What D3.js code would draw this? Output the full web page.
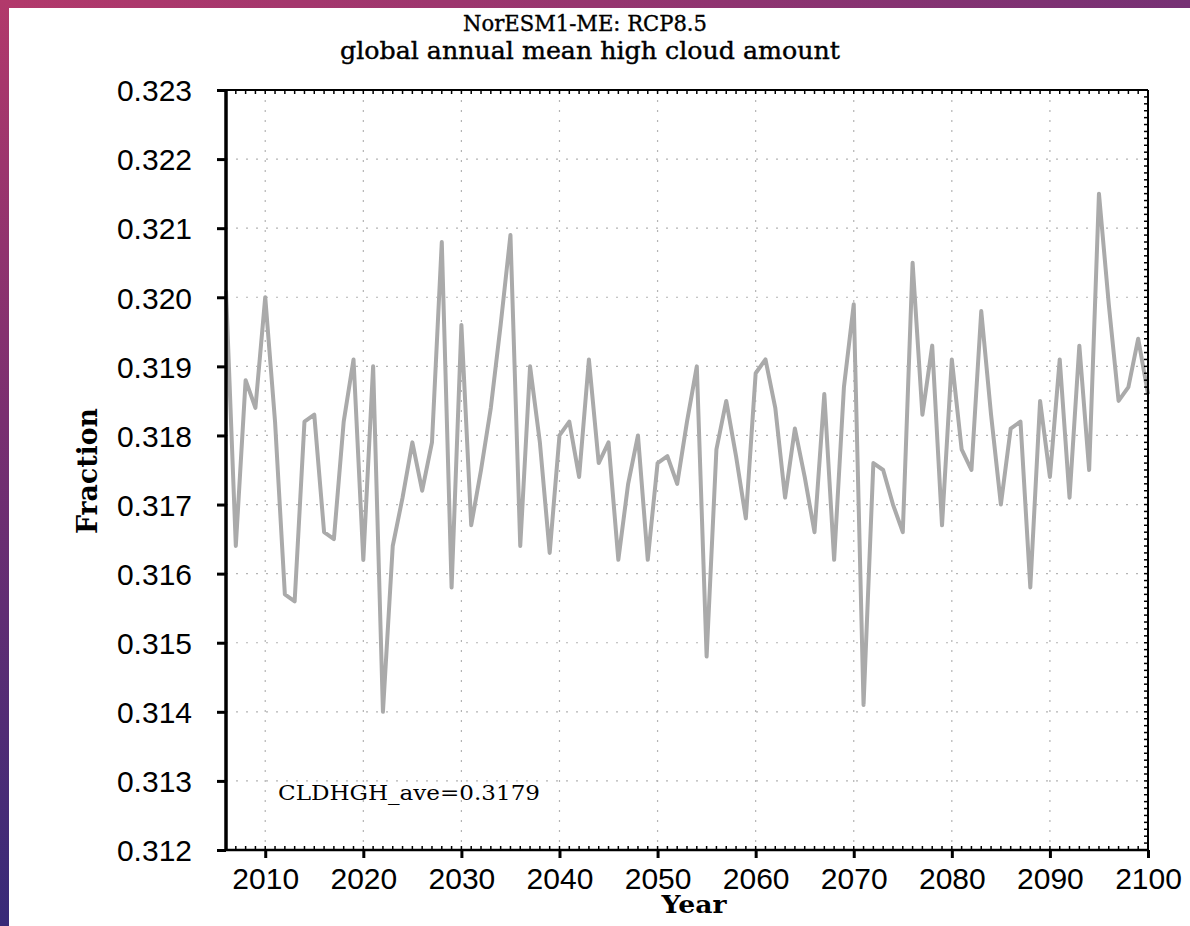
<!DOCTYPE html>
<html>
<head>
<meta charset="utf-8">
<script src="https://cdn.jsdelivr.net/npm/d3@7"></script>
<style>
  html, body { margin: 0; padding: 0; background: #fff; }
  svg { display: block; }
</style>
</head>
<body>
<svg id="chart" width="1190" height="926"></svg>
<script>
// NorESM1-ME RCP8.5: global annual mean high cloud amount (CLDHGH), 2006-2100
const years = d3.range(2006, 2101);
const cldhgh = [
  0.3201, 0.3164, 0.3188, 0.3184, 0.3200, 0.3182, 0.3157, 0.3156, 0.3182, 0.3183,
  0.3166, 0.3165, 0.3182, 0.3191, 0.3162, 0.3190, 0.3140, 0.3164, 0.3171, 0.3179,
  0.3172, 0.3179, 0.3208, 0.3158, 0.3196, 0.3167, 0.3175, 0.3184, 0.3196, 0.3209,
  0.3164, 0.3190, 0.3179, 0.3163, 0.3180, 0.3182, 0.3174, 0.3191, 0.3176, 0.3179,
  0.3162, 0.3173, 0.3180, 0.3162, 0.3176, 0.3177, 0.3173, 0.3182, 0.3190, 0.3148,
  0.3178, 0.3185, 0.3177, 0.3168, 0.3189, 0.3191, 0.3184, 0.3171, 0.3181, 0.3174,
  0.3166, 0.3186, 0.3162, 0.3187, 0.3199, 0.3141, 0.3176, 0.3175, 0.3170, 0.3166,
  0.3205, 0.3183, 0.3193, 0.3167, 0.3191, 0.3178, 0.3175, 0.3198, 0.3183, 0.3170,
  0.3181, 0.3182, 0.3158, 0.3185, 0.3174, 0.3191, 0.3171, 0.3193, 0.3175, 0.3215,
  0.3199, 0.3185, 0.3187, 0.3194, 0.3186
];
const xTicks = [2010, 2020, 2030, 2040, 2050, 2060, 2070, 2080, 2090, 2100];
const yTicks = [0.312, 0.313, 0.314, 0.315, 0.316, 0.317, 0.318, 0.319, 0.320, 0.321, 0.322, 0.323];
const titleLines = ["NorESM1-ME: RCP8.5", "global annual mean high cloud amount"];

const svg = d3.select("#chart");
const W = 1190, H = 926;
const plot = { left: 226, right: 1148, top: 90, bottom: 850 };

// decorative frame strips
const defs = svg.append("defs");
const gTop = defs.append("linearGradient").attr("id", "frameTop").attr("x1", 0).attr("x2", 1).attr("y1", 0).attr("y2", 0);
gTop.append("stop").attr("offset", 0).attr("stop-color", "#b2396b");
gTop.append("stop").attr("offset", 0.5).attr("stop-color", "#96356f");
gTop.append("stop").attr("offset", 1).attr("stop-color", "#763174");
const gLeft = defs.append("linearGradient").attr("id", "frameLeft").attr("x1", 0).attr("x2", 0).attr("y1", 0).attr("y2", 1);
gLeft.append("stop").attr("offset", 0).attr("stop-color", "#b2396b");
gLeft.append("stop").attr("offset", 0.45).attr("stop-color", "#7a2f70");
gLeft.append("stop").attr("offset", 1).attr("stop-color", "#372a78");
svg.append("rect").attr("x", 0).attr("y", 0).attr("width", W).attr("height", 8).attr("fill", "url(#frameTop)");
svg.append("rect").attr("x", 0).attr("y", 0).attr("width", 9).attr("height", H).attr("fill", "url(#frameLeft)");

const x = d3.scaleLinear().domain([2006, 2100]).range([plot.left, plot.right]);
const y = d3.scaleLinear().domain([0.312, 0.323]).range([plot.bottom, plot.top]);

// dotted grid
const grid = svg.append("g").attr("stroke", "#b4b4b4").attr("stroke-width", 1.2).attr("stroke-dasharray", "2,8");
grid.selectAll("line.v").data(xTicks.filter(d => d < 2100)).join("line")
  .attr("x1", d => x(d)).attr("x2", d => x(d)).attr("y1", plot.top).attr("y2", plot.bottom);
grid.selectAll("line.h").data(yTicks.slice(1, -1)).join("line")
  .attr("x1", plot.left).attr("x2", plot.right).attr("y1", d => y(d)).attr("y2", d => y(d));

// data line
const line = d3.line().x((d, i) => x(years[i])).y(d => y(d));
svg.append("path").datum(cldhgh)
  .attr("d", line)
  .attr("fill", "none")
  .attr("stroke", "#aaaaaa")
  .attr("stroke-width", 4)
  .attr("stroke-linejoin", "round");

// minor ticks on the frame: yearly on top/bottom, every 0.0001 on the right
const minorYears = d3.range(2006, 2101);
const minorVals = d3.range(0, 111).map(i => 0.312 + i * 0.0001);
const frame = svg.append("g").attr("stroke", "#000").attr("stroke-width", 1.5);
frame.selectAll("line.mt").data(minorYears).join("line")
  .attr("x1", d => x(d)).attr("x2", d => x(d)).attr("y1", plot.top).attr("y2", plot.top + 4);
frame.selectAll("line.mb").data(minorYears).join("line")
  .attr("x1", d => x(d)).attr("x2", d => x(d)).attr("y1", plot.bottom).attr("y2", plot.bottom - 4);
frame.selectAll("line.mr").data(minorVals).join("line")
  .attr("x1", plot.right).attr("x2", plot.right - 4).attr("y1", d => y(d)).attr("y2", d => y(d));

// frame lines
svg.append("line").attr("x1", plot.left).attr("x2", plot.right).attr("y1", plot.top).attr("y2", plot.top)
  .attr("stroke", "#000").attr("stroke-width", 2);
svg.append("line").attr("x1", plot.right).attr("x2", plot.right).attr("y1", plot.top).attr("y2", plot.bottom)
  .attr("stroke", "#000").attr("stroke-width", 2);

// axes
const axisFont = "'Liberation Sans', Arial, sans-serif";
const xAxis = svg.append("g").attr("transform", `translate(0,${plot.bottom})`)
  .call(d3.axisBottom(x).tickValues(xTicks).tickFormat(d3.format("d")).tickSize(8).tickPadding(10));
xAxis.select(".domain").attr("stroke-width", 2.5).attr("d", `M${plot.left},0H${plot.right}`);
xAxis.selectAll(".tick line").attr("stroke-width", 3);
xAxis.selectAll(".tick text").attr("font-family", axisFont).attr("font-size", 30).attr("fill", "#000")
  .attr("dy", "0.71em");

const yAxis = svg.append("g").attr("transform", `translate(${plot.left},0)`)
  .call(d3.axisLeft(y).tickValues(yTicks).tickFormat(d3.format(".3f")).tickSize(9).tickPadding(25));
yAxis.select(".domain").attr("stroke-width", 3.5).attr("d", `M0,${plot.top}V${plot.bottom}`);
yAxis.selectAll(".tick line").attr("stroke-width", 3);
yAxis.selectAll(".tick text").attr("font-family", axisFont).attr("font-size", 30).attr("fill", "#000")
  .attr("dy", "0.36em");
svg.selectAll(".domain").attr("stroke", "#000");

// titles
const serif = "'DejaVu Serif', 'Liberation Serif', serif";
svg.append("text").attr("x", 585).attr("y", 31).attr("text-anchor", "middle")
  .attr("font-family", serif).attr("font-size", 23)
  .attr("stroke", "#000").attr("stroke-width", 0.4)
  .attr("textLength", 244).attr("lengthAdjust", "spacingAndGlyphs")
  .text(titleLines[0]);
svg.append("text").attr("x", 590).attr("y", 59).attr("text-anchor", "middle")
  .attr("font-family", serif).attr("font-size", 24)
  .attr("stroke", "#000").attr("stroke-width", 0.4)
  .attr("textLength", 500).attr("lengthAdjust", "spacingAndGlyphs")
  .text(titleLines[1]);

// axis titles
svg.append("text").attr("x", 694).attr("y", 913).attr("text-anchor", "middle")
  .attr("font-family", serif).attr("font-weight", "bold").attr("font-size", 25)
  .attr("textLength", 65).attr("lengthAdjust", "spacingAndGlyphs")
  .text("Year");
svg.append("text")
  .attr("transform", `translate(97,471) rotate(-90)`)
  .attr("text-anchor", "middle")
  .attr("font-family", serif).attr("font-weight", "bold").attr("font-size", 27)
  .attr("textLength", 126).attr("lengthAdjust", "spacingAndGlyphs")
  .text("Fraction");

// period average annotation
const ave = d3.mean(cldhgh);
svg.append("text").attr("x", 278).attr("y", 800)
  .attr("font-family", serif).attr("font-size", 20)
  .attr("textLength", 262).attr("lengthAdjust", "spacingAndGlyphs")
  .text(`CLDHGH_ave=${ave.toFixed(4)}`);
</script>
</body>
</html>
